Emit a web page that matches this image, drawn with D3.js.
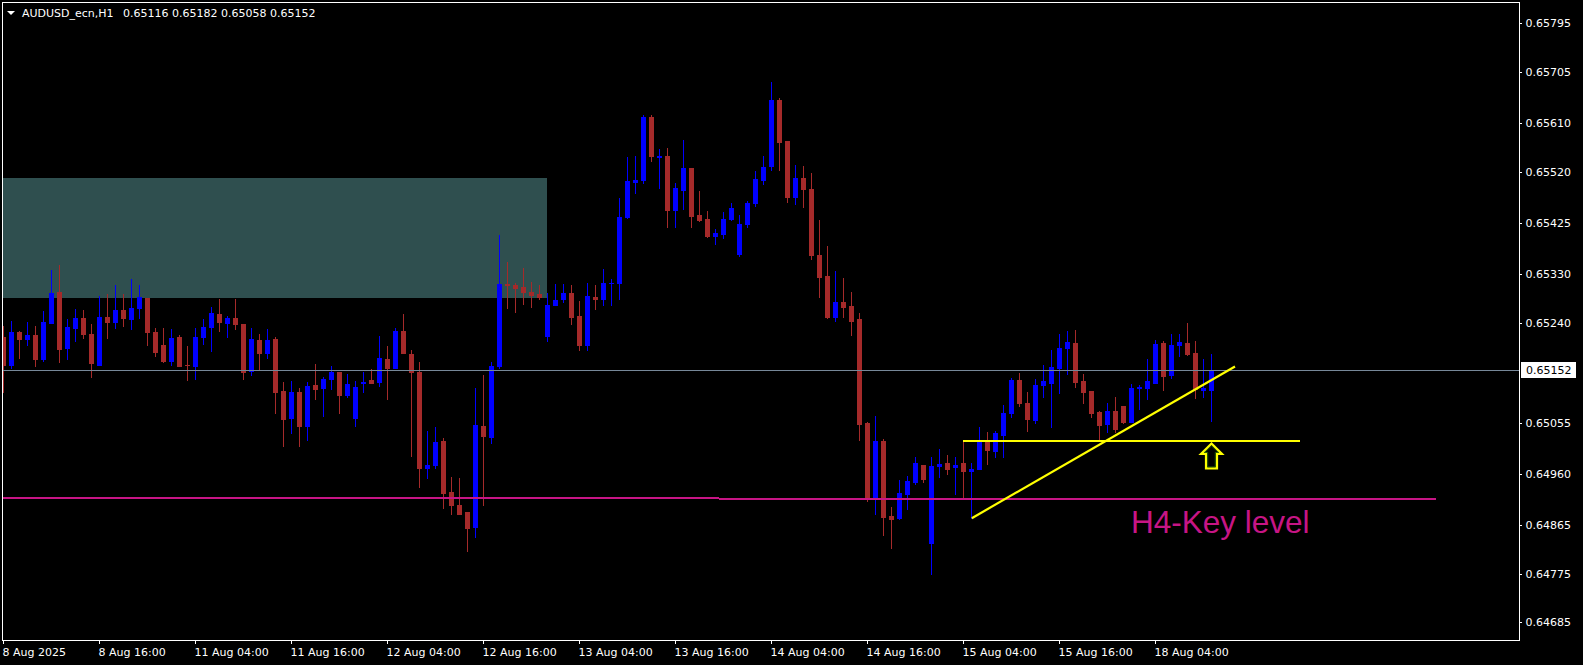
<!DOCTYPE html>
<html><head><meta charset="utf-8">
<script src="https://cdn.jsdelivr.net/npm/d3@7"></script>
<style>html,body{margin:0;padding:0;background:#000;overflow:hidden}</style>
</head><body>
<svg id="chart" width="1583" height="665"></svg>
<script>
// ---------------- DATA ----------------
const symbolName = "AUDUSD_ecn,H1";
const opens = [0.65214,0.65161,0.65223,0.65209,0.65217,0.65173,0.65240,0.65297,0.65194,0.65231,
0.65249,0.65219,0.65162,0.65251,0.65242,0.65264,0.65247,0.65268,0.65286,0.65223,
0.65199,0.65170,0.65214,0.65162,0.65159,0.65214,0.65232,0.65256,0.65240,0.65249,
0.65238,0.65150,0.65208,0.65183,0.65210,0.65114,0.65064,0.65112,0.65049,0.65125,
0.65120,0.65135,0.65149,0.65107,0.65064,0.65129,0.65134,0.65131,0.65173,0.65157,
0.65225,0.65182,0.65149,0.64970,0.64977,0.65021,0.64927,0.64902,0.64890,0.64861,
0.65049,0.65029,0.65159,0.65312,0.65310,0.65306,0.65297,0.65293,0.65216,0.65272,
0.65283,0.65295,0.65252,0.65198,0.65288,0.65283,0.65313,0.65314,0.65435,0.65501,
0.65505,0.65621,0.65547,0.65549,0.65448,0.65486,0.65527,0.65440,0.65432,0.65401,
0.65405,0.65432,0.65368,0.65423,0.65462,0.65505,0.65531,0.65652,0.65577,0.65473,
0.65508,0.65488,0.65365,0.65327,0.65251,0.65278,0.65271,0.65247,0.65054,0.64915,
0.65021,0.64882,0.64878,0.64923,0.64945,0.64977,0.64832,0.64975,0.64980,0.64972,
0.64980,0.64965,0.64969,0.65019,0.65002,0.65032,0.65073,0.65134,0.65091,0.65060,
0.65125,0.65128,0.65156,0.65193,0.65202,0.65132,0.65114,0.65075,0.65052,0.65077,
0.65086,0.65056,0.65120,0.65119,0.65128,0.65202,0.65143,0.65199,0.65202,0.65184,
0.65115,0.65116];
const highs = [0.65234,0.65243,0.65225,0.65241,0.65234,0.65261,0.65338,0.65347,0.65246,0.65265,
0.65264,0.65238,0.65290,0.65294,0.65309,0.65293,0.65321,0.65309,0.65286,0.65230,
0.65230,0.65228,0.65217,0.65197,0.65230,0.65247,0.65269,0.65284,0.65252,0.65284,
0.65238,0.65230,0.65219,0.65228,0.65214,0.65130,0.65132,0.65119,0.65130,0.65164,
0.65140,0.65160,0.65149,0.65145,0.65132,0.65149,0.65154,0.65215,0.65197,0.65230,
0.65256,0.65190,0.65167,0.65040,0.65047,0.65027,0.64954,0.64952,0.64890,0.65120,
0.65144,0.65167,0.65402,0.65352,0.65314,0.65341,0.65315,0.65310,0.65295,0.65312,
0.65312,0.65310,0.65280,0.65314,0.65310,0.65340,0.65321,0.65471,0.65547,0.65549,
0.65625,0.65625,0.65562,0.65564,0.65499,0.65579,0.65527,0.65484,0.65447,0.65414,
0.65445,0.65462,0.65440,0.65465,0.65521,0.65549,0.65686,0.65656,0.65577,0.65532,
0.65530,0.65517,0.65430,0.65382,0.65336,0.65323,0.65297,0.65258,0.65056,0.65067,
0.65025,0.64899,0.64949,0.64956,0.64991,0.64977,0.64991,0.65006,0.64995,0.64991,
0.65021,0.64980,0.65047,0.65038,0.65039,0.65088,0.65138,0.65147,0.65112,0.65136,
0.65162,0.65189,0.65219,0.65225,0.65227,0.65145,0.65114,0.65077,0.65091,0.65102,
0.65086,0.65127,0.65125,0.65173,0.65208,0.65206,0.65219,0.65219,0.65239,0.65206,
0.65173,0.65182];
const lows = [0.65112,0.65157,0.65175,0.65199,0.65159,0.65170,0.65240,0.65168,0.65172,0.65207,
0.65212,0.65140,0.65162,0.65212,0.65231,0.65233,0.65228,0.65248,0.65198,0.65179,
0.65168,0.65162,0.65159,0.65133,0.65135,0.65201,0.65187,0.65225,0.65213,0.65229,
0.65135,0.65144,0.65153,0.65175,0.65072,0.65012,0.65036,0.65011,0.65022,0.65098,
0.65068,0.65118,0.65073,0.65103,0.65048,0.65112,0.65129,0.65122,0.65099,0.65157,
0.65183,0.64994,0.64935,0.64953,0.64970,0.64896,0.64885,0.64886,0.64817,0.64844,
0.64903,0.65018,0.65157,0.65268,0.65259,0.65275,0.65270,0.65283,0.65207,0.65272,
0.65279,0.65238,0.65190,0.65190,0.65266,0.65272,0.65273,0.65283,0.65433,0.65481,
0.65498,0.65540,0.65490,0.65418,0.65418,0.65451,0.65418,0.65429,0.65399,0.65386,
0.65396,0.65430,0.65364,0.65418,0.65457,0.65496,0.65523,0.65523,0.65464,0.65459,
0.65455,0.65358,0.65288,0.65249,0.65243,0.65251,0.65217,0.65023,0.64910,0.64886,
0.64847,0.64823,0.64877,0.64895,0.64941,0.64945,0.64775,0.64954,0.64960,0.64923,
0.64914,0.64878,0.64969,0.64978,0.64991,0.64991,0.65065,0.65086,0.65039,0.65054,
0.65102,0.65047,0.65110,0.65145,0.65121,0.65091,0.65065,0.65023,0.65038,0.65038,
0.65054,0.65056,0.65080,0.65099,0.65128,0.65115,0.65138,0.65178,0.65180,0.65101,
0.65102,0.65058];
const closes = [0.65161,0.65223,0.65209,0.65217,0.65173,0.65241,0.65295,0.65192,0.65232,0.65249,
0.65220,0.65166,0.65251,0.65242,0.65264,0.65248,0.65267,0.65288,0.65223,0.65186,
0.65170,0.65212,0.65159,0.65161,0.65214,0.65232,0.65258,0.65242,0.65249,0.65238,
0.65149,0.65210,0.65183,0.65208,0.65112,0.65062,0.65112,0.65049,0.65123,0.65118,
0.65136,0.65149,0.65107,0.65127,0.65121,0.65130,0.65129,0.65175,0.65157,0.65225,
0.65183,0.65148,0.64970,0.64977,0.65019,0.64925,0.64903,0.64886,0.64859,0.65051,
0.65031,0.65160,0.65312,0.65309,0.65305,0.65296,0.65291,0.65288,0.65273,0.65282,
0.65295,0.65251,0.65198,0.65290,0.65283,0.65314,0.65314,0.65436,0.65502,0.65504,
0.65621,0.65549,0.65549,0.65448,0.65490,0.65527,0.65438,0.65431,0.65401,0.65406,
0.65432,0.65452,0.65423,0.65462,0.65506,0.65528,0.65652,0.65575,0.65473,0.65508,
0.65488,0.65365,0.65325,0.65251,0.65278,0.65269,0.65243,0.65052,0.64915,0.65021,
0.64880,0.64877,0.64925,0.64947,0.64980,0.64951,0.64975,0.64979,0.64969,0.64977,
0.64965,0.64969,0.65019,0.65004,0.65036,0.65073,0.65134,0.65091,0.65062,0.65125,
0.65132,0.65158,0.65193,0.65204,0.65130,0.65112,0.65073,0.65051,0.65077,0.65043,
0.65056,0.65119,0.65121,0.65132,0.65201,0.65141,0.65199,0.65204,0.65182,0.65117,
0.65119,0.65152];

const timeTickIndex = [0,12,24,36,48,60,72,84,96,108,120,132,144];
const timeTickLabels = ["8 Aug 2025","8 Aug 16:00","11 Aug 04:00","11 Aug 16:00","12 Aug 04:00",
  "12 Aug 16:00","13 Aug 04:00","13 Aug 16:00","14 Aug 04:00","14 Aug 16:00","15 Aug 04:00",
  "15 Aug 16:00","18 Aug 04:00"];
const priceTicks = [0.65795,0.65705,0.65610,0.65520,0.65425,0.65330,0.65240,0.65055,0.64960,0.64865,0.64775,0.64685];
const bidPrice = 0.65152;

// drawn objects
const zoneIndex = [-3, 68];
const zonePrices = [0.65508, 0.65286];
const keyLevelStart = [-3, 89.5];
const keyLevelEnd = [89.5, 179.1];
const keyLevelPrices = [0.64915, 0.64913];
const supportIndex = [120, 162.1];
const supportPrice = 0.65021;
const trendIndex = [121.1, 154];
const trendPrices = [0.64878, 0.65159];
const arrowIndex = 151;
const arrowPrice = 0.65021;
const labelText = "H4-Key level";
const labelIndex = 141;
const labelPrice = 0.64851;

// ---------------- LAYOUT ----------------
const BULL = "#0000ff", BEAR = "#a52a2a";
const plotL = 2, plotT = 2, plotR = 1519, plotB = 640;
const svg = d3.select("#chart");
svg.append("rect").attr("width",1583).attr("height",665).attr("fill","#000");

const x = d3.scaleLinear().domain([0,152]).range([3, 3 + 8*152]);
const y = d3.scaleLinear().domain([0.64685, 0.65795]).range([622.4, 23]);

svg.append("defs").append("clipPath").attr("id","clip")
  .append("rect").attr("x",plotL+1).attr("y",plotT+1).attr("width",plotR-plotL-1).attr("height",plotB-plotT-1);

const g = svg.append("g").attr("clip-path","url(#clip)").attr("shape-rendering","crispEdges");

// zone rectangle (background)
g.append("rect")
  .attr("x", x(zoneIndex[0])).attr("y", Math.round(y(zonePrices[0])))
  .attr("width", x(zoneIndex[1]) - x(zoneIndex[0]))
  .attr("height", Math.round(y(zonePrices[1])) - Math.round(y(zonePrices[0])))
  .attr("fill","#2f4f4f");

// candles
const candles = opens.map((o,i)=>({i, o, h:highs[i], l:lows[i], c:closes[i]}));
const col = d => d.c >= d.o ? BULL : BEAR;
g.selectAll("rect.wick").data(candles).join("rect").attr("class","wick")
  .attr("x", d => Math.round(x(d.i)))
  .attr("width", 1)
  .attr("y", d => Math.round(y(d.h)))
  .attr("height", d => Math.max(1, Math.round(y(d.l)) - Math.round(y(d.h)) + 1))
  .attr("fill", col);
g.selectAll("rect.body").data(candles).join("rect").attr("class","body")
  .attr("x", d => Math.round(x(d.i)) - 2)
  .attr("width", 5)
  .attr("y", d => Math.round(y(Math.max(d.o,d.c))))
  .attr("height", d => Math.max(1, Math.round(y(Math.min(d.o,d.c))) - Math.round(y(Math.max(d.o,d.c))) + 1))
  .attr("fill", col);

// bid line
g.append("line")
  .attr("x1", plotL).attr("x2", plotR)
  .attr("y1", Math.round(y(bidPrice)) + 0.5).attr("y2", Math.round(y(bidPrice)) + 0.5)
  .attr("stroke","#778899").attr("stroke-width",1);

// key level (pink)
keyLevelPrices.forEach((p,k)=>{
  g.append("line")
    .attr("x1", x(keyLevelStart[k])).attr("x2", x(keyLevelEnd[k]))
    .attr("y1", Math.round(y(p))).attr("y2", Math.round(y(p)))
    .attr("stroke","#c71585").attr("stroke-width",2);
});

// support line (yellow horizontal)
g.append("line")
  .attr("x1", x(supportIndex[0])).attr("x2", x(supportIndex[1]))
  .attr("y1", Math.round(y(supportPrice))).attr("y2", Math.round(y(supportPrice)))
  .attr("stroke","#ffff00").attr("stroke-width",2);

// trend line
g.append("line")
  .attr("x1", x(trendIndex[0])).attr("x2", x(trendIndex[1]))
  .attr("y1", y(trendPrices[0])).attr("y2", y(trendPrices[1]))
  .attr("stroke","#ffff00").attr("stroke-width",2.2)
  .attr("shape-rendering","auto");

// arrow
const ax = x(arrowIndex) + 0.5, ay = y(arrowPrice);
const arrowShape = [[0,2.5],[10.5,13],[5.5,13],[5.5,27.5],[-5.5,27.5],[-5.5,13],[-10.5,13]];
const inner = [[0,5],[7,11.5],[3.8,11.5],[3.8,26],[-3.8,26],[-3.8,11.5],[-7,11.5]];
svg.append("polygon")
  .attr("points", arrowShape.map(p=>[ax+p[0], ay+p[1]].join(",")).join(" "))
  .attr("fill","none").attr("stroke","#ffff00").attr("stroke-width",2.2).attr("stroke-linejoin","miter");
svg.append("polygon")
  .attr("points", inner.map(p=>[ax+p[0], ay+p[1]].join(",")).join(" "))
  .attr("fill","none").attr("stroke","#2e6b00").attr("stroke-width",0.9);

// label
svg.append("text")
  .attr("x", x(labelIndex)).attr("y", y(labelPrice))
  .attr("fill","#c71585")
  .attr("font-family","'Liberation Sans', Arial, sans-serif")
  .attr("font-size", 31.5)
  .text(labelText);

// frame
svg.append("rect")
  .attr("x", plotL + 0.5).attr("y", plotT + 0.5)
  .attr("width", plotR - plotL).attr("height", plotB - plotT)
  .attr("fill","none").attr("stroke","#ffffff").attr("stroke-width",1)
  .attr("shape-rendering","crispEdges");

// price axis
const yAxis = d3.axisRight(y).tickValues(priceTicks).tickSize(3).tickPadding(3.5)
  .tickFormat(d3.format(".5f"));
const ya = svg.append("g").attr("transform", `translate(${plotR},0)`).call(yAxis);
ya.select(".domain").remove();
ya.selectAll("line").attr("stroke","#fff").attr("shape-rendering","crispEdges");
ya.selectAll("text").attr("fill","#fff").attr("font-family","'DejaVu Sans', Verdana, sans-serif").attr("font-size",11);

// bid label
const by = Math.round(y(bidPrice));
svg.append("rect").attr("x", plotR + 2).attr("y", by - 8).attr("width", 55).attr("height", 16).attr("fill","#fff");
svg.append("text").attr("x", plotR + 7).attr("y", by).attr("dy","0.36em")
  .attr("fill","#000").attr("font-family","'DejaVu Sans', Verdana, sans-serif").attr("font-size",11)
  .text(d3.format(".5f")(bidPrice));

// time axis
const xAxis = d3.axisBottom(x).tickValues(timeTickIndex).tickSize(4).tickPadding(4.5)
  .tickFormat((d,i) => timeTickLabels[i]);
const xa = svg.append("g").attr("transform", `translate(0,${plotB})`).call(xAxis);
xa.select(".domain").remove();
xa.selectAll("line").attr("stroke","#fff").attr("shape-rendering","crispEdges");
xa.selectAll("text").attr("fill","#fff").attr("text-anchor","start").attr("dx",-1)
  .attr("font-family","'DejaVu Sans', Verdana, sans-serif").attr("font-size",11);

// title
const last = opens.length - 1;
const fmt = d3.format(".5f");
svg.append("polygon").attr("points","7,11 15,11 11,15").attr("fill","#fff");
svg.append("text").attr("x",22).attr("y",17).attr("fill","#fff")
  .attr("font-family","'DejaVu Sans', Verdana, sans-serif").attr("font-size",11)
  .text(symbolName);
svg.append("text").attr("x",123).attr("y",17).attr("fill","#fff")
  .attr("font-family","'DejaVu Sans', Verdana, sans-serif").attr("font-size",11)
  .text([opens[last],highs[last],lows[last],closes[last]].map(fmt).join(" "));
</script>
</body></html>
